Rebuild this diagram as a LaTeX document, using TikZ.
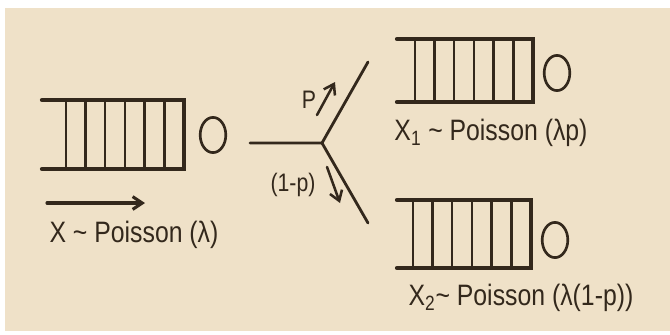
\documentclass[tikz,border=0pt]{standalone}
\usepackage{fontspec}
\newfontfamily\handfont[FakeStretch=0.84]{Liberation Sans}
\usetikzlibrary{arrows.meta,shapes.geometric}
\definecolor{ink}{HTML}{33281C}
\definecolor{paper}{HTML}{EFE1C8}

\begin{document}
\begin{tikzpicture}[x=0.025cm,y=-0.025cm,line cap=round,
  rail/.style={draw=ink,line width=3pt},
  bar/.style={draw=ink,line width=1.8pt},
  srv/.style={ellipse,draw=ink,line width=1.9pt,minimum width=0.64cm,minimum height=0.88cm,inner sep=0pt},
  lbl/.style={text=ink,font=\handfont\fontsize{21}{24}\selectfont,inner sep=0pt},
  small/.style={text=ink,font=\handfont\fontsize{18}{21}\selectfont,inner sep=0pt},
  a/.style={-{Straight Barb[length=2.4mm,width=3.2mm]},draw=ink,line width=1.8pt},
  branch/.style={draw=ink,line width=2pt}]
\useasboundingbox (0,0) rectangle (670,335);
\fill[white] (0,0) rectangle (670,335);
\fill[paper] (5,8) rectangle (670,331);
% the three queues
\foreach \l/\r/\t/\b in {42/184/100/169, 397/533/39/102, 397/531/200/268}{
  \draw[rail] (\l,\t) -- (\r,\t) -- (\r,\b) -- (\l,\b);
  \foreach \k in {1,...,6}
    \draw[bar] (\r-\k*19.7,\t) -- (\r-\k*19.7,\b);
}
\node[srv] (s0) at (213,135) {};
\node[srv] (s1) at (557,73) {};
\node[srv] (s2) at (555,240) {};
% arrival stream
\coordinate (inL) at (47,203);
\coordinate (inR) at (145,203);
\draw[a,line width=2.2pt] (inL) -- (inR);
\node[lbl] (x0) at (134,235) {X \textasciitilde{} Poisson (λ)};
\node[lbl] (x1) at (491,133) {X\textsubscript{1} \textasciitilde{} Poisson (λp)};
\node[lbl] (x2) at (521,298) {X\textsubscript{2}\textasciitilde{} Poisson (λ(1-p))};
% the split
\coordinate (in) at (250,143);
\coordinate (split) at (322,143);
\coordinate (up) at (368,62);
\coordinate (down) at (368,223);
\draw[branch] (in) -- (split) -- (up);
\draw[branch] (split) -- (down);
\coordinate (pA) at (317,115);
\coordinate (pB) at (335,82);
\coordinate (qA) at (327,167);
\coordinate (qB) at (340,203);
\draw[a] (pA) -- (pB);
\draw[a] (qA) -- (qB);
\node[small] (p) at (309,100) {P};
\node[small] (q) at (293,185) {(1-p)};
\end{tikzpicture}
\end{document}
